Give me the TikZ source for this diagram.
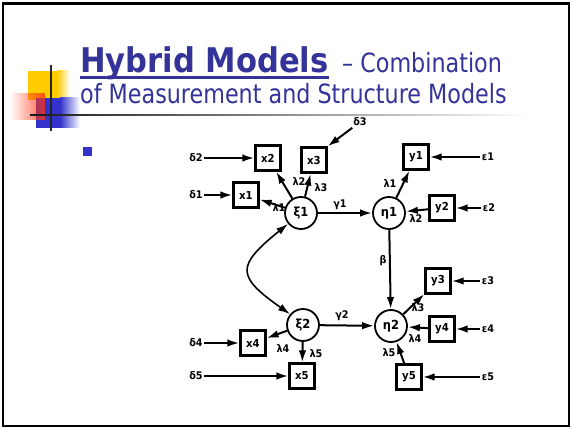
\documentclass[tikz,border=0pt]{standalone}
\usepackage{fontspec}
\setmainfont{DejaVu Sans}
\newfontfamily\headfont[FakeStretch=0.84]{DejaVu Sans}
\newfontfamily\headbold[FakeStretch=0.9]{DejaVu Sans}
\newfontfamily\markfont[FakeStretch=0.92]{DejaVu Sans}
\usetikzlibrary{arrows.meta,fadings,calc}

\definecolor{titleblue}{RGB}{51,51,153}
\definecolor{bulletblue}{RGB}{51,51,204}
\definecolor{decoyellow}{RGB}{255,204,0}
\definecolor{decored}{RGB}{255,51,17}
\definecolor{decoblue}{RGB}{51,51,204}

\tikzfading[name=fadeinright, left color=transparent!100, right color=transparent!0]

\tikzset{
  mbox/.style={draw, line width=2.3pt, minimum width=25pt, minimum height=25pt,
    inner sep=0pt, font=\markfont\bfseries\fontsize{11}{11}\selectfont},
  lat/.style={circle, draw, line width=1.8pt, minimum size=32pt, inner sep=0pt,
    font=\markfont\bfseries\fontsize{12.5}{12.5}\selectfont},
  lbl/.style={inner sep=1.5pt, font=\markfont\bfseries\fontsize{10.5}{10.5}\selectfont},
  tip/.tip={Latex[length=12pt,width=7.5pt]},
  arr/.style={-tip, line width=2pt},
  dblarr/.style={tip-tip, line width=1.6pt},
  headtxt/.style={inner sep=0pt, anchor=base west, text=titleblue}
}

\begin{document}
\begin{tikzpicture}[x=1pt, y=-1pt]
  \useasboundingbox (0,0) rectangle (572,430);
  \fill[white] (0,0) rectangle (572,430);

  % slide frame
  \draw[line width=2.4pt, black] (3,3.5) rectangle (569,426);

  % corner decoration
  \fill[decoyellow] (28,71) rectangle (57,100);
  \shade[left color=decoyellow, right color=white] (57,71) rectangle (70,100);
  \fill[decoblue] (36,98) rectangle (60,128);
  \shade[left color=decoblue, right color=white] (60,98) rectangle (80,128);
  \fill[decored, fill opacity=0.8, path fading=fadeinright] (10,93) rectangle (45,120);
  \draw[line width=2pt, black!85] (51,65) -- (51,131);
  \shade[left color=black!90, right color=white] (30,114.2) rectangle (530,115.8);

  % heading
  \node[headtxt, font=\headbold\bfseries\fontsize{34}{40}\selectfont] (hm) at (80,73) {Hybrid Models};
  \draw[line width=2.6pt, titleblue] ($(hm.base west)+(0,4.5)$) -- ($(hm.base east)+(0,4.5)$);
  \node[headtxt, font=\headfont\fontsize{26.5}{30}\selectfont] (comb) at (342,73) {– Combination};
  \node[headtxt, font=\headfont\fontsize{26.5}{30}\selectfont] (sub) at (80,104) {of Measurement and Structure Models};

  % bullet
  \fill[bulletblue] (83,147) rectangle (92,156);

  % observed indicators
  \node[mbox] (x1) at (246,195) {x1};
  \node[mbox] (x2) at (268,158) {x2};
  \node[mbox] (x3) at (314,160) {x3};
  \node[mbox] (x4) at (253,343) {x4};
  \node[mbox] (x5) at (302,376) {x5};
  \node[mbox] (y1) at (416,157) {y1};
  \node[mbox] (y2) at (442,208) {y2};
  \node[mbox] (y3) at (438,281) {y3};
  \node[mbox] (y4) at (442,329) {y4};
  \node[mbox] (y5) at (409,377) {y5};

  % latent variables
  \node[lat] (xi1) at (301,213) {ξ1};
  \node[lat] (eta1) at (389,213) {η1};
  \node[lat] (xi2) at (303,325) {ξ2};
  \node[lat] (eta2) at (391,326) {η2};

  % error terms
  \node[lbl] (d1) at (196,195) {δ1};
  \node[lbl] (d2) at (196,158) {δ2};
  \node[lbl] (d3) at (360,122) {δ3};
  \node[lbl] (d4) at (196,343) {δ4};
  \node[lbl] (d5) at (196,376) {δ5};
  \node[lbl] (e1) at (488,157) {ε1};
  \node[lbl] (e2) at (489,208) {ε2};
  \node[lbl] (e3) at (488,281) {ε3};
  \node[lbl] (e4) at (488,329) {ε4};
  \node[lbl] (e5) at (488,377) {ε5};

  \draw[arr] (d1) -- (x1);
  \draw[arr] (d2) -- (x2);
  \draw[arr] (d3) -- (x3.north east);
  \draw[arr] (d4) -- (x4);
  \draw[arr] (d5) -- (x5);
  \draw[arr] (e1) -- (y1);
  \draw[arr] (e2) -- (y2);
  \draw[arr] (e3) -- (y3);
  \draw[arr] (e4) -- (y4);
  \draw[arr] (e5) -- (y5);

  % loadings
  \draw[arr] (xi1) -- (x1);
  \draw[arr] (xi1) -- (x2);
  \draw[arr] (xi1) -- (x3);
  \draw[arr] (xi2) -- (x4);
  \draw[arr] (xi2) -- (x5);
  \draw[arr] (eta1) -- (y1);
  \draw[arr] (y2) -- (eta1);
  \draw[arr] (eta2) -- (y3);
  \draw[arr] (y4) -- (eta2);
  \draw[arr] (y5) -- (eta2);

  \node[lbl] (lx1) at (279,208) {λ1};
  \node[lbl] (lx2) at (299,182) {λ2};
  \node[lbl] (lx3) at (321,188) {λ3};
  \node[lbl] (lx4) at (283,349) {λ4};
  \node[lbl] (lx5) at (316,354) {λ5};
  \node[lbl] (ly1) at (390,184) {λ1};
  \node[lbl] (ly2) at (416,219) {λ2};
  \node[lbl] (ly3) at (418,308) {λ3};
  \node[lbl] (ly4) at (415,339) {λ4};
  \node[lbl] (ly5) at (389,353) {λ5};

  % structural paths
  \draw[arr] (xi1) -- (eta1);
  \draw[arr] (xi2) -- (eta2);
  \draw[arr] (eta1) -- (eta2);
  \node[lbl] (g1) at (340,205) {γ1};
  \node[lbl] (g2) at (342,316) {γ2};
  \node[lbl] (b) at (383,261) {β};

  % covariance between exogenous factors
  \draw[dblarr] (xi1.220) .. controls (236,266) and (236,276) .. (xi2.140);
\end{tikzpicture}
\end{document}
